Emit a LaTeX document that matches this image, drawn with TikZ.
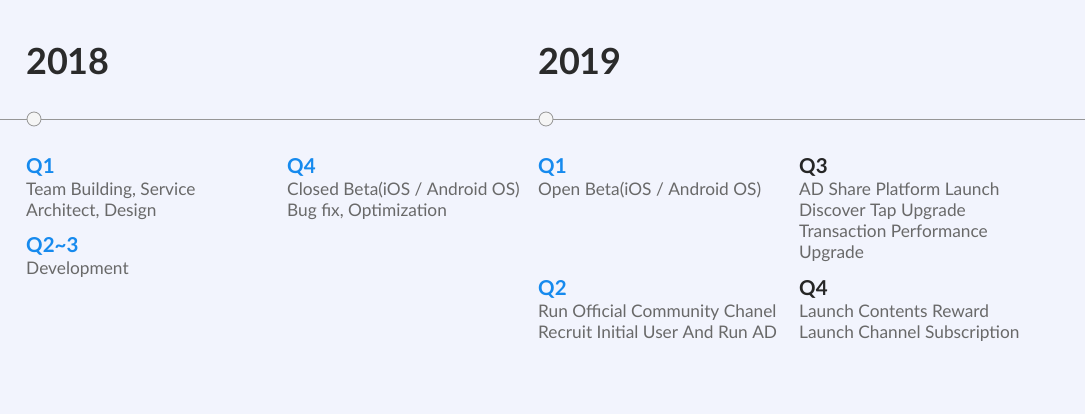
\documentclass[tikz,border=0pt]{standalone}
\usepackage{fontspec}
\setmainfont{Lato}
\definecolor{bg}{RGB}{242,244,253}
\definecolor{yeartext}{RGB}{43,43,43}
\definecolor{qblue}{RGB}{22,138,238}
\definecolor{qdark}{RGB}{38,38,38}
\definecolor{bodytext}{RGB}{105,105,105}
\definecolor{linegray}{RGB}{150,150,150}
\tikzset{
  year/.style={anchor=base west,inner sep=0pt,text=yeartext,font=\fontsize{36}{36}\selectfont\bfseries},
  qblue/.style={anchor=base west,inner sep=0pt,text=qblue,font=\fontsize{20.5}{20}\selectfont\bfseries},
  qdark/.style={anchor=base west,inner sep=0pt,text=qdark,font=\fontsize{20.5}{20}\selectfont\bfseries},
  body/.style={anchor=base west,inner sep=0pt,text=bodytext,font=\fontsize{17.3}{21}\selectfont},
  dot/.style={circle,draw=linegray,fill=white!96!black,line width=0.8pt,minimum size=14pt,inner sep=0pt},
}
\begin{document}
\begin{tikzpicture}[x=1pt,y=-1pt]
\fill[bg] (0,0) rectangle (1085,414);
\useasboundingbox (0,0) rectangle (1085,414);
\coordinate (lineL) at (0,119);
\coordinate (lineR) at (1085,119);
\draw[linegray,line width=0.8pt] (lineL) -- (lineR);
\node[dot] (d18) at (34,119) {};
\node[dot] (d19) at (546,119) {};
\node[year] (y18) at (26,75) {2018};
\node[year] (y19) at (538,75) {2019};
% 2018
\node[qblue] (a1) at (26,174) {Q1};
\node[body] (a1t1) at (26,196) {Team Building, Service};
\node[body] (a1t2) at (26,217) {Architect, Design};
\node[qblue] (a2) at (26,253) {Q2\textasciitilde3};
\node[body] (a2t) at (26,275) {Development};
\node[qblue] (a4) at (287,174) {Q4};
\node[body] (a4t1) at (287,196) {Closed Beta(iOS / Android OS)};
\node[body] (a4t2) at (287,217) {Bug fix, Optimization};
% 2019
\node[qblue] (b1) at (538,174) {Q1};
\node[body] (b1t) at (538,196) {Open Beta(iOS / Android OS)};
\node[qblue] (b2) at (538,295) {Q2};
\node[body] (b2t1) at (538,317) {Run Official Community Chanel};
\node[body] (b2t2) at (538,338) {Recruit Initial User And Run AD};
\node[qdark] (b3) at (799,174) {Q3};
\node[body] (b3t1) at (799,196) {AD Share Platform Launch};
\node[body] (b3t2) at (799,217) {Discover Tap Upgrade};
\node[body] (b3t3) at (799,238) {Transaction Performance};
\node[body] (b3t4) at (799,259) {Upgrade};
\node[qdark] (b4) at (799,295) {Q4};
\node[body] (b4t1) at (799,317) {Launch Contents Reward};
\node[body] (b4t2) at (799,338) {Launch Channel Subscription};
\end{tikzpicture}
\end{document}
